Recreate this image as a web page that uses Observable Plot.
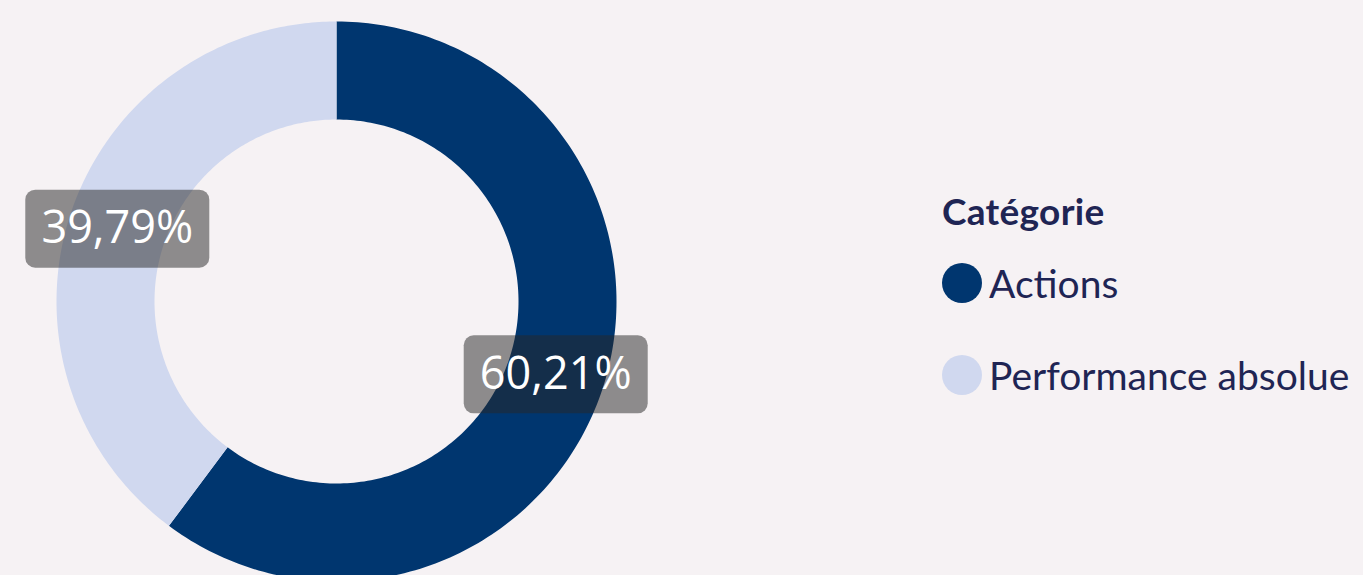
<!DOCTYPE html>
<html>
<head>
<meta charset="utf-8">
<script src="https://cdn.jsdelivr.net/npm/d3@7"></script>
<script src="https://cdn.jsdelivr.net/npm/@observablehq/plot@0.6"></script>
<style>
  html, body { margin: 0; padding: 0; background: #f6f2f4; overflow: hidden; }
  #wrap { position: relative; width: 1363px; height: 575px; }
  #legend { position: absolute; left: 942px; top: 0; font-family: Lato, "Open Sans", sans-serif; color: #1f2554; }
  .ltitle { position: absolute; left: 0; top: 189px; font-weight: 700; font-size: 37px; line-height: 44px; white-space: nowrap; letter-spacing: 0.3px; }
  .litem { position: absolute; left: 0; white-space: nowrap; font-size: 39px; height: 40px; display: flex; align-items: center; }
  .ldot { width: 40px; height: 40px; border-radius: 50%; margin-right: 7px; flex: none; }
</style>
</head>
<body>
<div id="wrap"></div>
<script>
const categories = ["Actions", "Performance absolue"];
const values = [60.21, 39.79];
const colors = ["#00366f", "#d0d8ef"];
const legendTitle = "Catégorie";

const innerRatio = 0.65;
const pie = d3.pie().sort(null).value(d => d.value)(categories.map((c, i) => ({cat: c, value: values[i]})));

// polygon points for each slice (angle clockwise from top, y up)
const pts = [];
for (const s of pie) {
  const n = 200;
  for (let k = 0; k <= n; k++) {
    const a = s.startAngle + (s.endAngle - s.startAngle) * k / n;
    pts.push({cat: s.data.cat, x: Math.sin(a), y: Math.cos(a)});
  }
  for (let k = n; k >= 0; k--) {
    const a = s.startAngle + (s.endAngle - s.startAngle) * k / n;
    pts.push({cat: s.data.cat, x: innerRatio * Math.sin(a), y: innerRatio * Math.cos(a)});
  }
}
const rMid = (1 + innerRatio) / 2;
const labels = pie.map(s => {
  const a = (s.startAngle + s.endAngle) / 2;
  return {cat: s.data.cat, x: rMid * Math.sin(a), y: rMid * Math.cos(a),
          text: s.data.value.toFixed(2).replace(".", ",") + "%"};
});

const boxSymbol = {
  draw(ctx) {
    const w = 184, h = 78, r = 10, x0 = -w / 2, y0 = -h / 2;
    ctx.moveTo(x0 + r, y0);
    ctx.lineTo(x0 + w - r, y0);
    ctx.arcTo(x0 + w, y0, x0 + w, y0 + r, r);
    ctx.lineTo(x0 + w, y0 + h - r);
    ctx.arcTo(x0 + w, y0 + h, x0 + w - r, y0 + h, r);
    ctx.lineTo(x0 + r, y0 + h);
    ctx.arcTo(x0, y0 + h, x0, y0 + h - r, r);
    ctx.lineTo(x0, y0 + r);
    ctx.arcTo(x0, y0, x0 + r, y0, r);
    ctx.closePath();
  }
};

const chart = Plot.plot({
  width: 1363,
  height: 575,
  margin: 0,
  style: {background: "transparent", overflow: "visible"},
  x: {domain: [-1, 1], range: [56, 616], axis: null},
  y: {domain: [-1, 1], range: [581, 21], axis: null},
  color: {domain: categories, range: colors},
  marks: [
    Plot.line(pts, {x: "x", y: "y", z: "cat", fill: "cat", stroke: null, curve: "linear-closed"}),
    Plot.dot(labels, {x: "x", y: "y", symbol: boxSymbol, fill: "#282828", fillOpacity: 0.51, stroke: null}),
    Plot.text(labels, {x: "x", y: "y", text: "text", fill: "white", fontSize: 45, fontFamily: "'Open Sans', sans-serif", dy: 0})
  ]
});
const wrap = document.getElementById("wrap");
wrap.appendChild(chart);

const legend = document.createElement("div");
legend.id = "legend";
const t = document.createElement("div");
t.className = "ltitle";
t.textContent = legendTitle;
legend.appendChild(t);
const tops = [263, 355];
categories.forEach((c, i) => {
  const item = document.createElement("div");
  item.className = "litem";
  item.style.top = tops[i] + "px";
  const dot = document.createElement("div");
  dot.className = "ldot";
  dot.style.background = colors[i];
  const lab = document.createElement("span");
  lab.textContent = c;
  item.appendChild(dot);
  item.appendChild(lab);
  legend.appendChild(item);
});
wrap.appendChild(legend);
</script>
</body>
</html>
